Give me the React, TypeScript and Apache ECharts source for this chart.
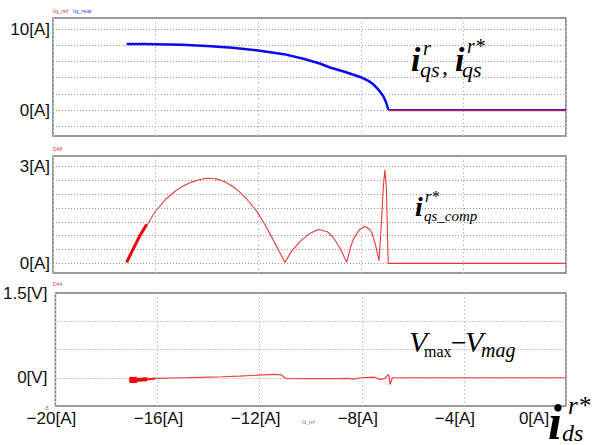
import React, { useEffect, useRef } from "react";
import * as echarts from "echarts";

// ---- axis ticks / labels ----
const xTickValues = [-20, -16, -12, -8, -4, 0];
const xTickLabels = ["−20[A]", "−16[A]", "−12[A]", "−8[A]", "−4[A]", "0[A]"];
const xLabelShift = [-4, 1, -4, -4, -9, -32];

const p1LabelValues = [0, 10];
const p1LabelTexts = ["0[A]", "10[A]"];
const p2LabelValues = [0, 3];
const p2LabelTexts = ["0[A]", "3[A]"];
const p3LabelValues = [0, 1.5];
const p3LabelTexts = ["0[V]", "1.5[V]"];

// ---- panel 1 : i_qs (real / ref) ----
const iqX = [-17.13, -16.5, -16, -15, -14, -13, -12, -11, -10.2, -9.6, -9.2, -8.6, -8, -7.7, -7.5, -7.35, -7.25, -7.12, -7.02, -6.96, -6.93, -6, -4, -2, 0];
const iqRealY = [8.15, 8.14, 8.12, 8.05, 7.92, 7.7, 7.35, 6.9, 6.3, 5.75, 5.25, 4.7, 4.05, 3.6, 3.15, 2.65, 2.26, 1.7, 1.0, 0.4, 0.05, 0.05, 0.05, 0.05, 0.05];
const iqRefY = [8.15, 8.14, 8.12, 8.05, 7.92, 7.7, 7.35, 6.9, 6.3, 5.75, 5.25, 4.7, 4.05, 3.6, 3.15, 2.65, 2.26, 1.7, 1.0, 0.4, 0.0, 0.0, 0.0, 0.0, 0.0];

// ---- panel 2 : i_qs_comp ----
const compX = [-17.13, -16.8, -16.41, -16.02, -15.57, -15.2, -14.92, -14.6, -14.27, -14.0, -13.75, -13.5, -13.23, -12.95, -12.71, -12.4, -12.06, -11.75, -11.41, -11.2, -10.96, -10.7, -10.37, -10.0, -9.66, -9.3, -9.07, -8.8, -8.55, -8.4, -8.29, -8.05, -7.84, -7.65, -7.57, -7.42, -7.29, -7.2, -7.12, -7.06, -7.0, -6.96, -6.93, -6.9, 0];
const compY = [0.03, 0.55, 1.09, 1.6, 2.02, 2.26, 2.4, 2.52, 2.6, 2.64, 2.63, 2.59, 2.5, 2.36, 2.2, 1.95, 1.62, 1.22, 0.72, 0.4, 0.03, 0.37, 0.68, 0.92, 1.05, 0.98, 0.8, 0.45, 0.03, 0.5, 0.75, 1.05, 1.15, 1.05, 0.95, 0.55, 0.08, 1.2, 2.4, 2.9, 2.3, 0.9, 0.0, 0.0, 0.0];
const compNoiseX = [-17.13, -16.9, -16.6, -16.35];
const compNoiseY = [0.03, 0.4, 0.88, 1.2];

// ---- panel 3 : V_max - V_mag ----
const vX = [-17.13, -16.6, -16.1, -15, -14, -13.49, -12.8, -12.06, -11.41, -11.15, -11.02, -10.89, -10, -9, -8.55, -8.3, -8.03, -7.51, -7.35, -7.25, -7.1, -6.96, -6.93, -6.89, -6.8, -6, 0];
const vY = [-0.03, -0.03, -0.012, 0.0, 0.012, 0.018, 0.03, 0.046, 0.058, 0.05, 0.0, -0.018, -0.016, -0.014, -0.012, -0.025, 0.0, 0.01, -0.02, -0.03, -0.01, 0.058, 0.01, -0.12, 0.0, 0.0, 0.0];
const vNoiseX = [-17.1, -16.95, -16.8];
const vNoiseY = [-0.035, -0.04, -0.035];
const vNoise2X = [-16.8, -16.6, -16.4];
const vNoise2Y = [-0.035, -0.032, -0.028];
const vNoise3X = [-16.4, -16.25, -16.1];
const vNoise3Y = [-0.028, -0.022, -0.016];

const pairs = (xs: number[], ys: number[]) => xs.map((x, i) => [x, ys[i]]);
const DROP_X = -6.93;

const GRID_LEFT = 53;
const GRID_W = 513;
const AXIS_FONT = "Liberation Sans";
const SERIF = "Liberation Serif";

const labelFilter = (vals: number[], texts: string[]) => (v: number) => {
  const i = vals.findIndex((t) => Math.abs(t - v) < 1e-6);
  return i >= 0 ? texts[i] : "";
};

const frameGrid = (top: number, height: number) => ({
  left: GRID_LEFT,
  width: GRID_W,
  top,
  height,
  show: true,
  borderColor: "#7a7a7a",
  borderWidth: 1.5,
  backgroundColor: "#ffffff",
});

const vSplit = { show: true, lineStyle: { color: "#c9c9c9", type: [2, 2], width: 1 } };
const hSplit = { show: true, lineStyle: { color: "#9a9a9a", type: [1, 2], width: 1 } };

const makeX = (gridIndex: number, withLabels: boolean) => ({
  type: "value",
  gridIndex,
  min: -20,
  max: 0,
  interval: 4,
  axisLine: { show: false },
  axisTick: { show: false },
  splitLine: vSplit,
  axisLabel: withLabels
    ? {
        show: true,
        margin: 4,
        color: "#111",
        fontFamily: AXIS_FONT,
        fontSize: 17,
        formatter: (v: number) => {
          const i = xTickValues.findIndex((t) => Math.abs(t - v) < 1e-6);
          if (i < 0) return "";
          return `{s${i}|${xTickLabels[i]}}`;
        },
        rich: Object.fromEntries(
          xLabelShift.map((s, i) => [
            `s${i}`,
            {
              fontFamily: AXIS_FONT,
              fontSize: 17,
              color: "#111",
              padding: s < 0 ? [0, -2 * s, 0, 0] : [0, 0, 0, 2 * s],
            },
          ])
        ),
      }
    : { show: false },
});

const txt = (text: string, x: number, baseline: number, size: number, opts: any = {}) => ({
  type: "text",
  x,
  y: baseline - size * 0.3,
  silent: true,
  z: 100,
  style: {
    text,
    fill: opts.fill || "#000",
    font: `${opts.style || "normal"} ${opts.weight || "normal"} ${size}px "${opts.family || SERIF}"`,
    textAlign: "left",
    textVerticalAlign: "middle",
  },
});

export default function App() {
  const ref = useRef<HTMLDivElement>(null);

  useEffect(() => {
    if (!ref.current) return;
    const chart = echarts.init(ref.current, null, { renderer: "svg" });

    const lineSeries = (name: string, data: number[][], xi: number, yi: number, color: string, width: number, extra: any = {}) => ({
      type: "line",
      name,
      data,
      xAxisIndex: xi,
      yAxisIndex: yi,
      symbol: "none",
      showSymbol: false,
      silent: true,
      lineStyle: { color, width, opacity: extra.opacity ?? 1 },
      z: extra.z ?? 3,
    });

    const realPts = pairs(iqX, iqRealY);
    const refPts = pairs(iqX, iqRefY);

    const option: any = {
      animation: false,
      backgroundColor: "#ffffff",
      grid: [frameGrid(18, 118), frameGrid(156, 117), frameGrid(293, 113)],
      xAxis: [makeX(0, false), makeX(1, false), makeX(2, true)],
      yAxis: [
        {
          type: "value",
          gridIndex: 0,
          min: -3.2,
          max: 11.36,
          splitNumber: 7,
          axisLine: { show: false },
          axisTick: { show: false },
          splitLine: hSplit,
          axisLabel: {
            margin: 3,
            color: "#111",
            fontFamily: AXIS_FONT,
            fontSize: 17,
            formatter: labelFilter(p1LabelValues, p1LabelTexts),
          },
        },
        {
          type: "value",
          gridIndex: 1,
          min: -0.3,
          max: 3.33,
          splitNumber: 4,
          axisLine: { show: false },
          axisTick: { show: false },
          splitLine: { show: false },
          axisLabel: {
            margin: 3,
            color: "#111",
            fontFamily: AXIS_FONT,
            fontSize: 17,
            formatter: labelFilter(p2LabelValues, p2LabelTexts),
          },
        },
        {
          // scope divisions of panel 2 (7 divisions over 3 A)
          type: "value",
          gridIndex: 1,
          position: "left",
          min: -0.7,
          max: 7.77,
          splitNumber: 8,
          axisLine: { show: false },
          axisTick: { show: false },
          axisLabel: { show: false },
          splitLine: hSplit,
        },
        {
          type: "value",
          gridIndex: 2,
          min: -0.5,
          max: 1.5,
          interval: 0.5,
          axisLine: { show: false },
          axisTick: { show: false },
          splitLine: hSplit,
          axisLabel: {
            margin: 8,
            color: "#111",
            fontFamily: AXIS_FONT,
            fontSize: 17,
            formatter: labelFilter(p3LabelValues, p3LabelTexts),
          },
        },
      ],
      series: [
        lineSeries("iq_ref", refPts.filter((p) => p[0] >= DROP_X), 0, 0, "#e03030", 2.2, { z: 3 }),
        lineSeries("iq_real", realPts.filter((p) => p[0] <= DROP_X), 0, 0, "#0a0af0", 2.5, { z: 4 }),
        lineSeries("iq_real_tail", realPts.filter((p) => p[0] >= DROP_X), 0, 0, "#2020e8", 1.2, { z: 4 }),
        lineSeries("iqs_comp", pairs(compX, compY), 1, 1, "#e83a3a", 1.1),
        lineSeries("iqs_comp_noise", pairs(compNoiseX, compNoiseY), 1, 1, "#f00000", 3),
        lineSeries("vdiff", pairs(vX, vY), 2, 3, "#ee4040", 1.2),
        lineSeries("vdiff_noise", pairs(vNoiseX, vNoiseY), 2, 3, "#f00000", 6),
        lineSeries("vdiff_noise2", pairs(vNoise2X, vNoise2Y), 2, 3, "#f00000", 4),
        lineSeries("vdiff_noise3", pairs(vNoise3X, vNoise3Y), 2, 3, "#f02020", 2.2),
      ],
      graphic: [
        // tiny channel names
        txt("Iq_ref", 53, 13, 6, { family: AXIS_FONT, fill: "#e04040" }),
        txt("Iq_real", 73, 13, 6, { family: AXIS_FONT, fill: "#4040e0" }),
        txt("D48", 53, 150, 5, { family: AXIS_FONT, fill: "#e04040" }),
        txt("D44", 53, 285, 5, { family: AXIS_FONT, fill: "#e04040" }),
        txt("-5", 44, 409, 5, { family: AXIS_FONT, fill: "#666" }),
        txt("Id_ref", 302, 423, 5, { family: AXIS_FONT, fill: "#777" }),
        // i^r_qs , i^r*_qs
        txt("i", 411, 70, 34, { style: "italic", weight: "bold" }),
        txt("r", 423, 54, 20, { style: "italic" }),
        txt("qs", 420, 76, 22, { style: "italic" }),
        txt(",", 442, 73, 24),
        txt("i", 455, 70, 34, { style: "italic", weight: "bold" }),
        txt("r*", 467, 52, 20, { style: "italic" }),
        txt("qs", 462, 76, 22, { style: "italic" }),
        // i^r*_qs_comp
        txt("i", 415, 215, 28, { style: "italic", weight: "bold" }),
        txt("r*", 425, 201, 16, { style: "italic" }),
        txt("qs_comp", 424, 220, 15, { style: "italic" }),
        // V_max - V_mag
        txt("V", 409, 350, 30, { style: "italic" }),
        txt("max", 424, 356, 16),
        txt("−", 451, 351, 28),
        txt("V", 465, 350, 30, { style: "italic" }),
        txt("mag", 481, 356, 20, { style: "italic" }),
        // i^r*_ds
        txt("i", 548, 437, 50, { style: "italic", weight: "bold" }),
        txt("r*", 568, 413, 25, { style: "italic" }),
        txt("ds", 562, 440, 24, { style: "italic" }),
      ],
    };

    chart.setOption(option);
    return () => chart.dispose();
  }, []);

  return (
    <div
      ref={ref}
      style={{ position: "fixed", left: 0, top: 0, width: 595, height: 445, background: "#fff" }}
    />
  );
}
